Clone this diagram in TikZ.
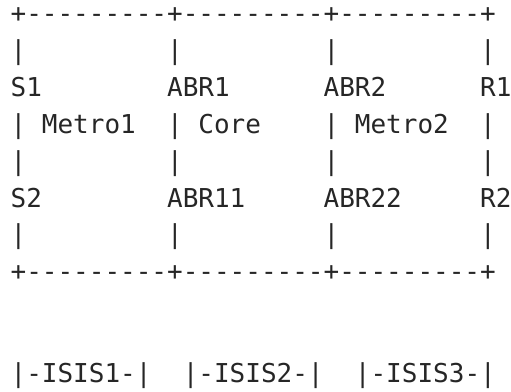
\documentclass[tikz,border=0pt]{standalone}
\usepackage{fontspec}
\setmonofont{DejaVu Sans Mono}
\usepackage{tikz}

\begin{document}
\begin{tikzpicture}[x=7.826pt,y=-18.45pt,
                    every node/.style={anchor=base west,inner sep=0pt,
                      font=\ttfamily\fontsize{13pt}{13pt}\selectfont,
                      text=black!85}]
\useasboundingbox (-5.1pt,11.25pt) rectangle (250.4pt,-184.75pt);
% box edges
\node (top) at (0,0) {+---------+---------+---------+};
\node (bot) at (0,7) {+---------+---------+---------+};
\foreach \r in {1,3,4,6}
  \foreach \c in {0,10,20,30}
    \node (bar\r-\c) at (\c,\r) {|};
% routers
\node (S1) at (0,2) {S1};
\node (ABR1) at (10,2) {ABR1};
\node (ABR2) at (20,2) {ABR2};
\node (R1) at (30,2) {R1};
\node (S2) at (0,5) {S2};
\node (ABR11) at (10,5) {ABR11};
\node (ABR22) at (20,5) {ABR22};
\node (R2) at (30,5) {R2};
% areas
\node (Metro1) at (2,3) {Metro1};
\node (Core) at (12,3) {Core};
\node (Metro2) at (22,3) {Metro2};
\node (ISIS1) at (0,9.76) {|-ISIS1-|};
\node (ISIS2) at (11,9.76) {|-ISIS2-|};
\node (ISIS3) at (22,9.76) {|-ISIS3-|};
\end{tikzpicture}
\end{document}
